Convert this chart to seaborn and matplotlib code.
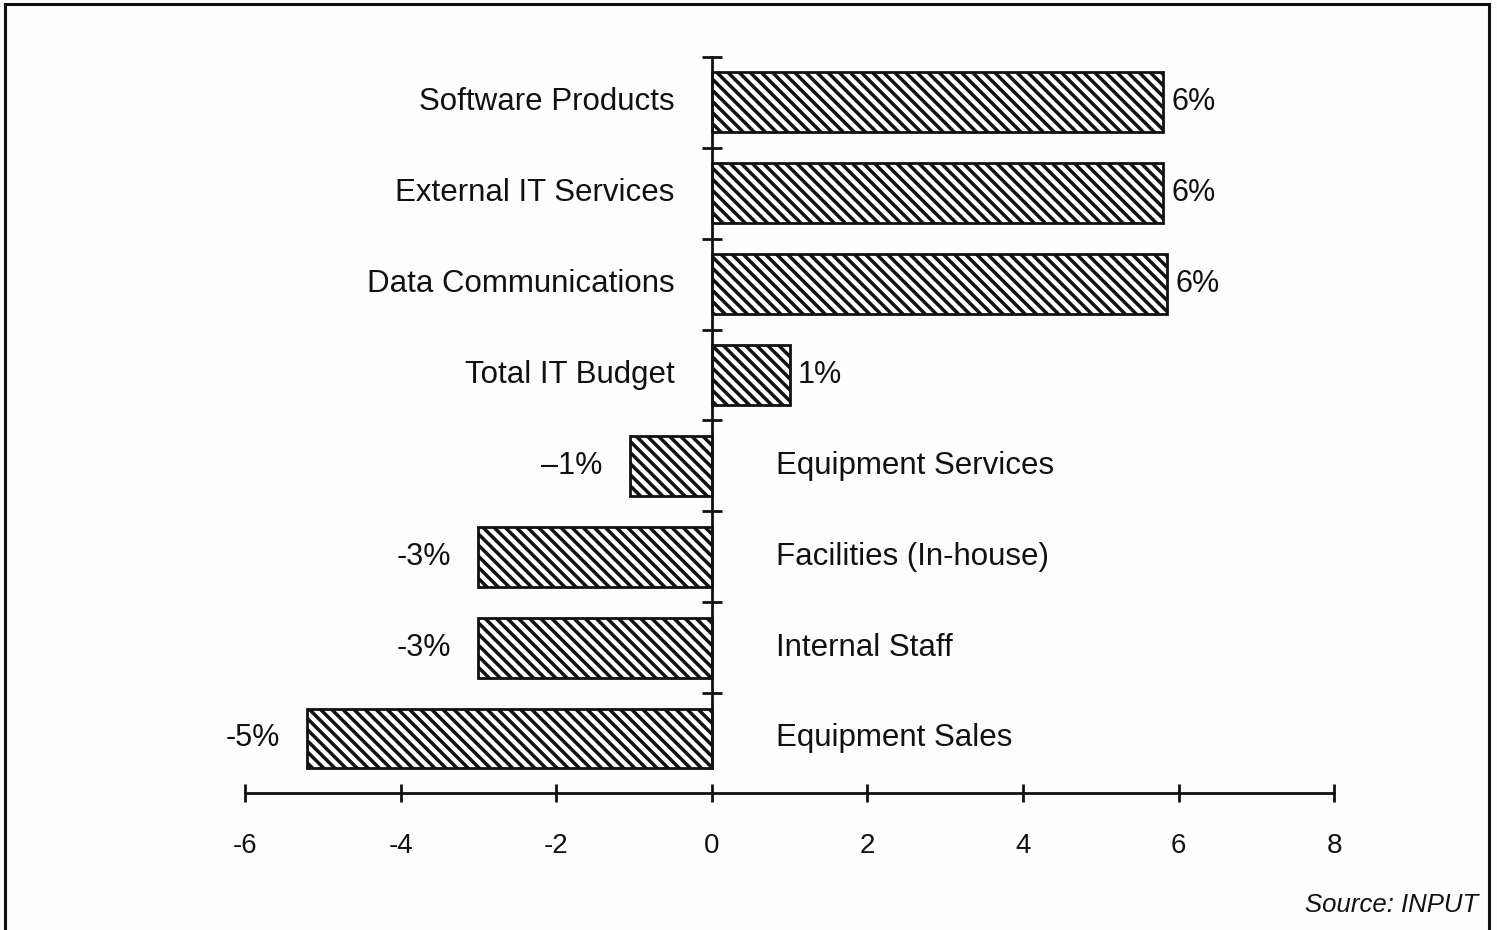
import numpy as np
import pandas as pd
import seaborn as sns
from matplotlib import pyplot as plt
from matplotlib.patches import Rectangle

# Growth in IT budget components (%)
categories = ["Software Products", "External IT Services", "Data Communications",
              "Total IT Budget", "Equipment Services", "Facilities (In-house)",
              "Internal Staff", "Equipment Sales"]
growth = [5.8, 5.8, 5.85, 1.0, -1.05, -3.0, -3.0, -5.2]
value_labels = ["6%", "6%", "6%", "1%", "\u20131%", "-3%", "-3%", "-5%"]
x_ticks = [-6, -4, -2, 0, 2, 4, 6, 8]

df = pd.DataFrame({"Category": categories, "Growth": growth})

sns.set_style("white")
plt.rcParams['font.family'] = ['Liberation Sans', 'DejaVu Sans']
plt.rcParams['hatch.linewidth'] = 2.5
ink = '#111111'

fig = plt.figure(figsize=(14.97, 9.30), dpi=100)
fig.patch.set_facecolor('#fdfdfd')
ax = fig.add_axes([0.1637, 0.1473, 0.7275, 0.7914])
ax.set_facecolor('none')

bar_h = 0.66
sns.barplot(data=df, x="Growth", y="Category", orient='h', color='white',
            edgecolor=ink, linewidth=2.0, width=bar_h, ax=ax)
for p in ax.patches:
    p.set_hatch('\\\\\\')
    p.set_facecolor('white')

ax.set_xlim(-6, 8)
ax.set_ylim(len(categories) - 1 + 0.6, -0.5)

# axes styling
for s in ['top', 'right']:
    ax.spines[s].set_visible(False)
ax.spines['left'].set_position(('data', 0))
ax.spines['left'].set_bounds(-0.5, len(categories) - 1 + bar_h / 2)
for s in ['left', 'bottom']:
    ax.spines[s].set_linewidth(2.0)
    ax.spines[s].set_color(ink)

ax.set_xticks(x_ticks)
ax.set_xticklabels([str(t) for t in x_ticks])
ax.tick_params(axis='x', bottom=True, direction='inout', length=13, width=2.0,
               color=ink, labelsize=20, labelcolor=ink, pad=22)
ax.set_yticks(np.arange(len(categories)) - 0.5)
ax.set_yticklabels([])
ax.tick_params(axis='y', left=True, direction='inout', length=14, width=2.0,
               color=ink)
ax.set_xlabel("")
ax.set_ylabel("")

# category names and value labels
for i, (cat, val, lab) in enumerate(zip(categories, growth, value_labels)):
    if val >= 0:
        ax.annotate(cat, (0, i), xytext=(-27, 0), textcoords='offset points',
                    ha='right', va='center', fontsize=22.5, color=ink)
        ax.annotate(lab, (val, i), xytext=(6, 0), textcoords='offset points',
                    ha='left', va='center', fontsize=22, color=ink)
    else:
        ax.annotate(cat, (0, i), xytext=(46, 0), textcoords='offset points',
                    ha='left', va='center', fontsize=22.5, color=ink)
        ax.annotate(lab, (val, i), xytext=(-20, 0), textcoords='offset points',
                    ha='right', va='center', fontsize=22, color=ink)

fig.text(1478 / 1497, 1 - 905 / 930, "Source: INPUT", ha='right', va='center',
         fontsize=18.5, style='italic', color=ink)

# frame around the whole figure
fig.patches.append(Rectangle((5 / 1497, -0.01), 1484 / 1497, 1.01 - 4 / 930,
                             transform=fig.transFigure, fill=False,
                             edgecolor=ink, linewidth=2.2))

fig.savefig("out.png", dpi=100, facecolor=fig.get_facecolor())
